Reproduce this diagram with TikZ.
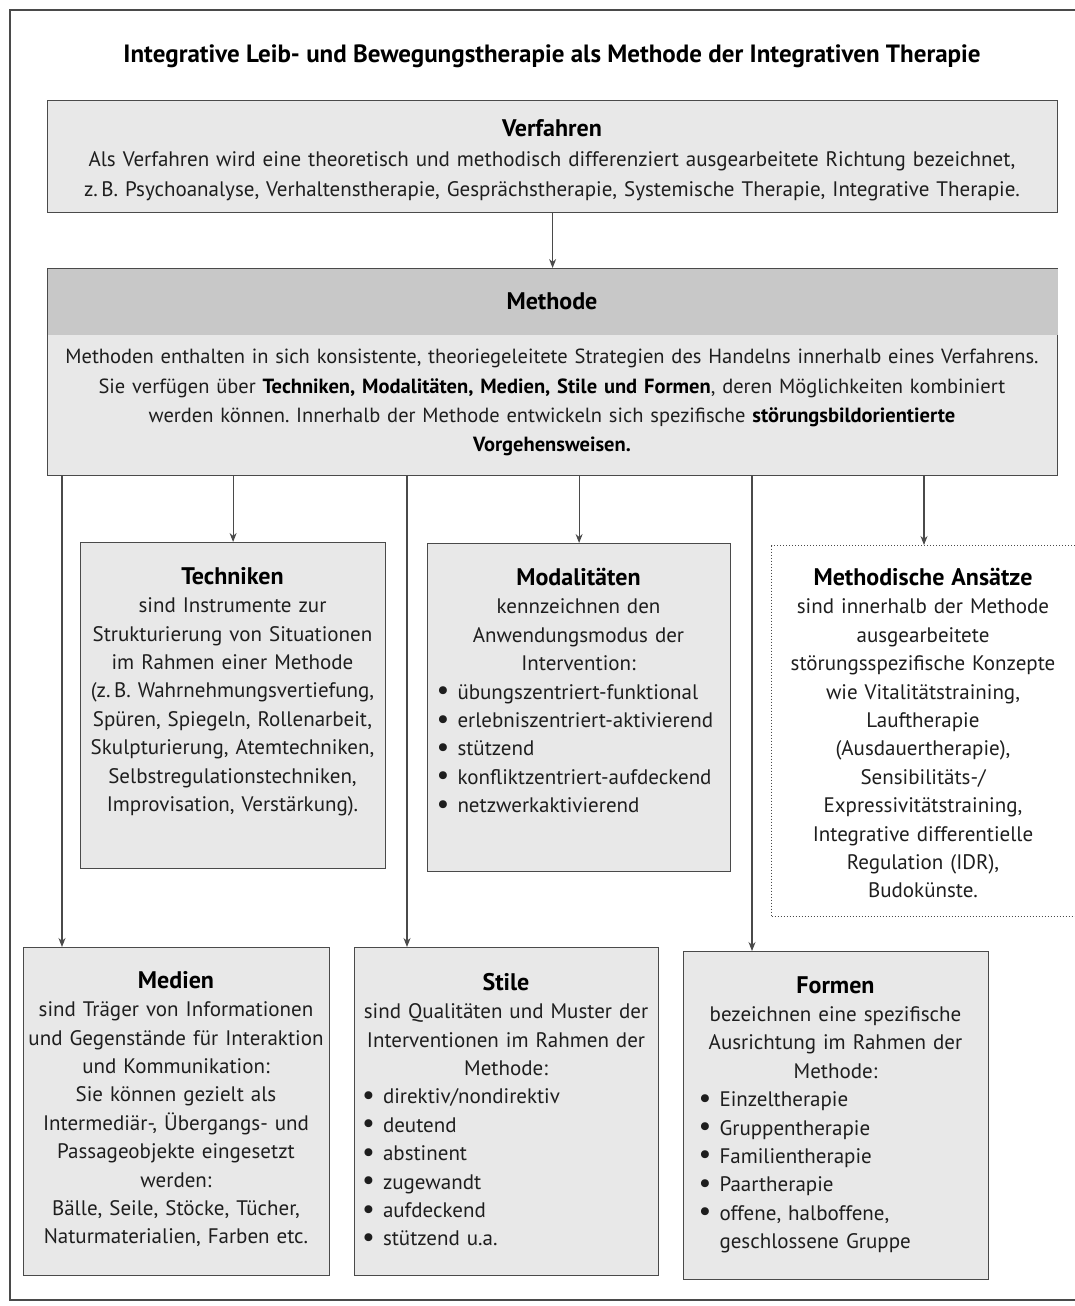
\documentclass[tikz,border=0pt]{standalone}
\usepackage{fontspec}
\setmainfont{PT Sans}
\usetikzlibrary{arrows.meta}
\definecolor{boxfill}{HTML}{E8E8E8}
\definecolor{headfill}{HTML}{C8C8C8}
\definecolor{edge}{HTML}{4A4A4A}
\definecolor{ink}{HTML}{1E1E1E}
\newcommand{\bul}[1]{\makebox[21pt][l]{\raisebox{-0.5pt}{\scalebox{1.35}{\textbullet}}}#1}
\newcommand{\hd}[1]{{\fontsize{24}{28.4}\selectfont\bfseries\color{black}#1}}
\begin{document}
\frenchspacing
\begin{tikzpicture}[x=1pt,y=-1pt,
  box/.style={draw=edge,line width=1.2pt,fill=boxfill,rectangle,inner sep=0pt,anchor=north west},
  dotbox/.style={draw=edge,line width=1pt,dotted,fill=white,rectangle,inner sep=0pt,anchor=north west},
  txt/.style={inner sep=0pt,anchor=north,text=ink,font=\fontsize{21}{28.4}\selectfont},
  arr/.style={draw=edge,line width=1.1pt,-{Stealth[length=9pt,width=7pt]}},
  ln/.style={draw=edge,line width=1pt}]
\useasboundingbox (0,0) rectangle (1074,1306);
% outer frame
\draw[draw=edge,line width=1.4pt] (1090,10) -- (10,10) -- (10,1300) -- (1090,1300);
% title
\node[txt,font=\fontsize{25}{30}\selectfont\bfseries,text=black] (title) at (552,45)
  {\frenchspacing Integrative Leib- und Bewegungstherapie als Methode der Integrativen Therapie};
% Verfahren
\node[box,minimum width=1010pt,minimum height=112pt] (verf) at (47,100) {};
\node[txt,text width=1000pt,align=center,font=\fontsize{21}{30}\selectfont] (verft) at (552,119)
  {\hd{Verfahren}\\
   Als Verfahren wird eine theoretisch und methodisch differenziert ausgearbeitete Richtung bezeichnet,\\
   z.\,B. Psychoanalyse, Verhaltenstherapie, Gesprächstherapie, Systemische Therapie, Integrative Therapie.};
% Methode
\node[box,minimum width=1010pt,minimum height=207pt] (meth) at (47,268) {};
\fill[headfill] ([xshift=0.6pt,yshift=-0.6pt]meth.north west) rectangle ([xshift=-0.6pt]meth.north east |- 0,335) ;
\node[txt] (metht) at (552,292) {\hd{Methode}};
\node[txt,text width=1006pt,align=center,font=\fontsize{20.5}{29.3}\selectfont] (methb) at (552,349)
  {Methoden enthalten in sich konsistente, theoriegeleitete Strategien des Handelns innerhalb eines Verfahrens.\\
   Sie verfügen über \textbf{\color{black}Techniken, Modalitäten, Medien, Stile und Formen}, deren Möglichkeiten kombiniert\\
   werden können. Innerhalb der Methode entwickeln sich spezifische \textbf{\color{black}störungsbildorientierte}\\
   \textbf{\color{black}Vorgehensweisen.}};
\draw[arr] (verf.south) -- (meth.north);
% upper row
\node[box,minimum width=305pt,minimum height=326pt] (tech) at (80,542) {};
\node[txt,text width=305pt,align=center] (techt) at (232.5,567)
  {\hd{Techniken}\\ sind Instrumente zur\\ Strukturierung von Situationen\\ im Rahmen einer Methode\\
   (z.\,B. Wahrnehmungsvertiefung,\\ Spüren, Spiegeln, Rollenarbeit,\\ Skulpturierung, Atemtechniken,\\
   Selbstregulationstechniken,\\ Improvisation, Verstärkung).};
\node[box,minimum width=303pt,minimum height=328pt] (moda) at (427,543) {};
\node[txt,text width=292pt] (modat) at (578.5,568)
  {\centering\hd{Modalitäten}\\ kennzeichnen den\\ Anwendungsmodus der\\ Intervention:\par
   \raggedright\leftskip=4pt
   \bul{übungszentriert-funktional}\\ \bul{erlebniszentriert-aktivierend}\\ \bul{stützend}\\
   \bul{konfliktzentriert-aufdeckend}\\ \bul{netzwerkaktivierend}\par};
\node[dotbox,minimum width=305pt,minimum height=371pt] (ansa) at (771,545) {};
\node[txt,text width=302pt,align=center] (ansat) at (923,568)
  {\hd{Methodische Ansätze}\\ sind innerhalb der Methode\\ ausgearbeitete\\ störungsspezifische Konzepte\\
   wie Vitalitätstraining,\\ Lauftherapie\\ (Ausdauertherapie),\\ Sensibilitäts-/\\ Expressivitätstraining,\\
   Integrative differentielle\\ Regulation (IDR),\\ Budokünste.};
% lower row
\node[box,minimum width=306pt,minimum height=328pt] (medi) at (23,947) {};
\node[txt,text width=306pt,align=center] (medit) at (176,971)
  {\hd{Medien}\\ sind Träger von Informationen\\ und Gegenstände für Interaktion\\ und Kommunikation:\\
   Sie können gezielt als\\ Intermediär-, Übergangs- und\\ Passageobjekte eingesetzt\\ werden:\\
   Bälle, Seile, Stöcke, Tücher,\\ Naturmaterialien, Farben etc.};
\node[box,minimum width=304pt,minimum height=328pt] (stil) at (354,947) {};
\node[txt,text width=296pt] (stilt) at (506,973)
  {\centering\hd{Stile}\\ sind Qualitäten und Muster der\\ Interventionen im Rahmen der\\ Methode:\par
   \raggedright\leftskip=4pt
   \bul{direktiv/nondirektiv}\\ \bul{deutend}\\ \bul{abstinent}\\ \bul{zugewandt}\\ \bul{aufdeckend}\\ \bul{stützend u.a.}\par};
\node[box,minimum width=305pt,minimum height=328pt] (form) at (683,951) {};
\node[txt,text width=292pt] (formt) at (835.5,976)
  {\centering\hd{Formen}\\ bezeichnen eine spezifische\\ Ausrichtung im Rahmen der\\ Methode:\par
   \raggedright\leftskip=9pt
   \bul{Einzeltherapie}\\ \bul{Gruppentherapie}\\ \bul{Familientherapie}\\ \bul{Paartherapie}\\
   \bul{offene, halboffene,}\\ \hspace*{21pt}geschlossene Gruppe\par};
% connectors
\coordinate (c1) at (62,475);
\coordinate (c3) at (407,475);
\coordinate (c5) at (752,475);
\draw[arr] (meth.south -| tech.north) -- (tech.north);
\draw[arr] (meth.south -| moda.north) -- (moda.north);
\draw[arr] (meth.south -| ansa.north) -- (ansa.north);
\draw[arr] (c1) -- (c1 |- medi.north);
\draw[arr] (c3) -- (c3 |- stil.north);
\draw[arr] (c5) -- (c5 |- form.north);
\end{tikzpicture}
\end{document}
